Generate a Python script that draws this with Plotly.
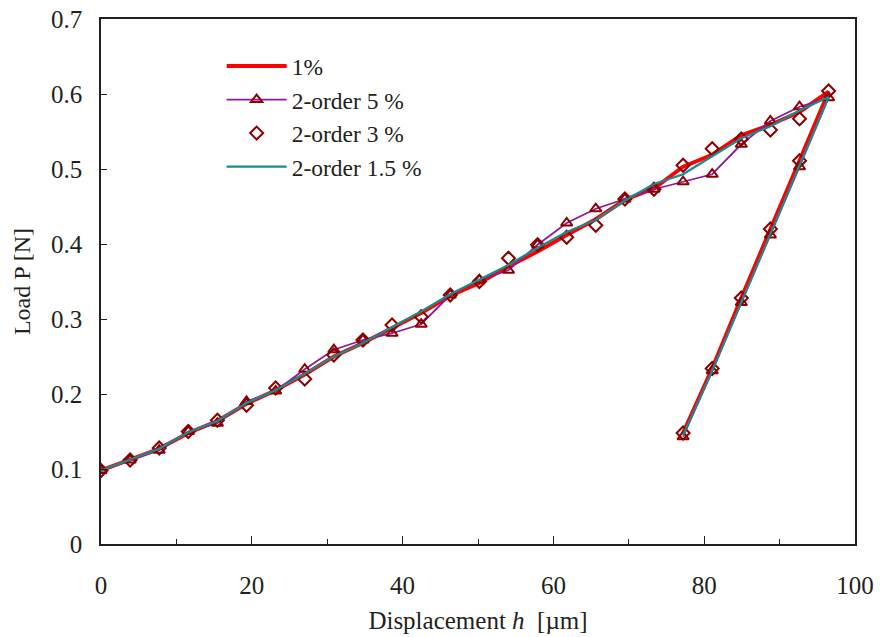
import plotly.graph_objects as go

# ---- data ----
x_load = [0.0, 3.86, 7.72, 11.58, 15.44, 19.3, 23.16, 27.02, 30.88, 34.74, 38.6, 42.46,
          46.32, 50.18, 54.04, 57.9, 61.76, 65.62, 69.48, 73.34, 77.2, 81.06, 84.92,
          88.78, 92.64, 96.5]
x_unload = [92.64, 88.78, 84.92, 81.06, 77.2]

y1_load = [0.098, 0.112, 0.127, 0.148, 0.164, 0.187, 0.205, 0.226, 0.250, 0.268, 0.288,
           0.308, 0.331, 0.348, 0.370, 0.390, 0.412, 0.433, 0.459, 0.474, 0.503, 0.519,
           0.545, 0.559, 0.576, 0.603]
y1_unload = [0.511, 0.420, 0.328, 0.234, 0.148]

y5_load = [0.098, 0.112, 0.125, 0.150, 0.161, 0.190, 0.204, 0.233, 0.259, 0.272, 0.281,
           0.293, 0.332, 0.352, 0.365, 0.399, 0.428, 0.447, 0.460, 0.473, 0.483, 0.493,
           0.533, 0.564, 0.583, 0.595]
y5_unload = [0.503, 0.412, 0.322, 0.231, 0.143]

y3_load = [0.098, 0.112, 0.128, 0.150, 0.165, 0.185, 0.208, 0.220, 0.252, 0.272, 0.292,
           0.303, 0.332, 0.350, 0.381, 0.399, 0.409, 0.425, 0.460, 0.473, 0.505, 0.527,
           0.540, 0.552, 0.567, 0.604]
y3_unload = [0.511, 0.420, 0.328, 0.234, 0.148]

y15_load = [0.098, 0.112, 0.127, 0.149, 0.164, 0.188, 0.205, 0.227, 0.250, 0.268, 0.289,
            0.310, 0.333, 0.352, 0.372, 0.395, 0.416, 0.432, 0.458, 0.480, 0.493, 0.517,
            0.541, 0.557, 0.578, 0.596]
y15_unload = [0.505, 0.414, 0.324, 0.231, 0.145]

names = ["1%", "2-order 5 %", "2-order 3 %", "2-order 1.5 %"]
y_ticks = [0, 0.1, 0.2, 0.3, 0.4, 0.5, 0.6, 0.7]
y_ticktext = ["0", "0.1", "0.2", "0.3", "0.4", "0.5", "0.6", "0.7"]

FONT = "Liberation Serif, Times New Roman, serif"
DARK = "#231f20"
MK = "#8b0000"

xs = x_load + x_unload
fig = go.Figure()
fig.add_trace(go.Scatter(x=xs, y=y1_load + y1_unload, name=names[0], mode="lines",
                         line=dict(color="#ff0000", width=4)))
fig.add_trace(go.Scatter(x=xs, y=y5_load + y5_unload, name=names[1], mode="lines+markers",
                         line=dict(color="#8b1a9a", width=1.8),
                         marker=dict(symbol="triangle-up-open", size=10, color=MK,
                                     line=dict(color=MK, width=2))))
fig.add_trace(go.Scatter(x=xs, y=y3_load + y3_unload, name=names[2], mode="markers",
                         marker=dict(symbol="diamond-open", size=10, color=MK,
                                     line=dict(color=MK, width=2))))
fig.add_trace(go.Scatter(x=xs, y=y15_load + y15_unload, name=names[3], mode="lines",
                         line=dict(color="#1a8a8a", width=2.2)))

fig.update_layout(
    width=880, height=637,
    margin=dict(l=101, r=25, t=19, b=93),
    paper_bgcolor="white", plot_bgcolor="white",
    font=dict(family=FONT, size=24, color=DARK),
    legend=dict(x=0.16, y=0.952, xanchor="left", yanchor="top",
                bgcolor="rgba(0,0,0,0)", font=dict(family=FONT, size=23.5, color=DARK),
                itemwidth=60, tracegroupgap=5),
    xaxis=dict(range=[0, 100], dtick=20, tick0=0, showgrid=False, zeroline=False,
               showline=True, linecolor=DARK, linewidth=1.5, mirror=True,
               ticks="inside", ticklen=8, tickcolor=DARK, tickwidth=1,
               ticklabelstandoff=18, automargin=False,
               tickfont=dict(family=FONT, size=25),
               minor=dict(dtick=10, ticks="inside", ticklen=5, tickcolor=DARK, showgrid=False),
               title=dict(text="Displacement <i>h</i>  [µm]", font=dict(family=FONT, size=25),
                          standoff=14)),
    yaxis=dict(range=[0, 0.7], showgrid=False, zeroline=False,
               showline=True, linecolor=DARK, linewidth=1.5, mirror=True,
               ticks="inside", ticklen=6, tickcolor=DARK, tickwidth=1,
               ticklabelstandoff=12, automargin=False,
               tickfont=dict(family=FONT, size=25),
               tickvals=y_ticks, ticktext=y_ticktext,
               title=dict(text="Load P [N]", font=dict(family=FONT, size=24), standoff=14)),
)

fig.write_html("out.html")
